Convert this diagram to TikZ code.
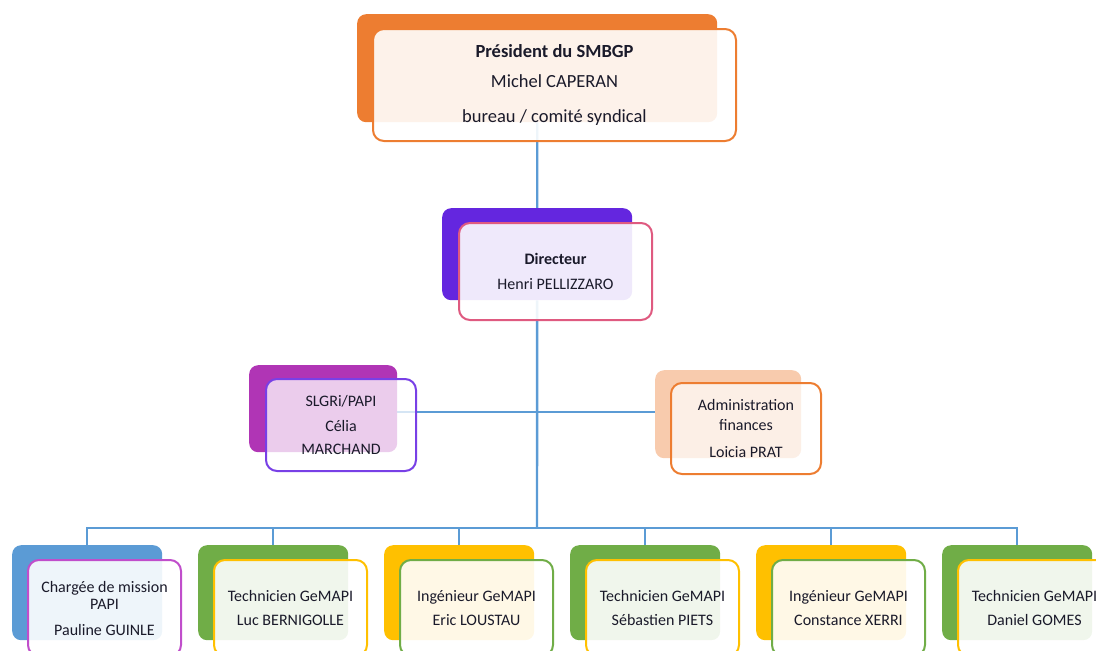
\documentclass[tikz,border=0pt]{standalone}
\usepackage{fontspec}
\setmainfont{Carlito}
\usetikzlibrary{positioning,backgrounds}

\definecolor{orgC}{HTML}{ED7D31}
\definecolor{peachC}{HTML}{F8CBAD}
\definecolor{violC}{HTML}{6426DF}
\definecolor{roseC}{HTML}{DF5A80}
\definecolor{plumC}{HTML}{B035B5}
\definecolor{lilaC}{HTML}{7840E6}
\definecolor{blueC}{HTML}{5B9BD5}
\definecolor{magC}{HTML}{C04ECB}
\definecolor{greenC}{HTML}{70AD47}
\definecolor{yelC}{HTML}{FFC000}
\definecolor{inkC}{HTML}{1A1A2A}

\newcommand\bodyfont{\fontsize{16}{19}\selectfont}
\newcommand\presfont{\fontsize{18.5}{22}\selectfont}

\tikzset{
  backbox/.style={fill=#1, rounded corners=9pt, inner sep=0pt, anchor=north west},
  frontbox/.style={draw=#1, line width=2pt, fill=white, fill opacity=0.9,
    text opacity=1, rounded corners=11pt, align=center, text=inkC,
    font=\bodyfont, inner sep=2pt, anchor=north west},
  link/.style={draw=blueC, line width=2.4pt}
}

\begin{document}
\begin{tikzpicture}[x=1pt, y=-1pt]
  \useasboundingbox (0,0) rectangle (1096,651);

  % president
  \node[backbox=orgC, minimum width=360pt, minimum height=108pt] (presB) at (357,14) {};
  \node[frontbox=orgC, minimum width=363pt, minimum height=112pt, font=\presfont]
    (presF) at ([shift={(15,14)}]presB.north west)
    {\textbf{Président du SMBGP}\\[8pt]Michel CAPERAN\\[13pt]bureau / comité syndical};

  % directeur
  \node[backbox=violC, minimum width=190pt, minimum height=92pt] (dirB) at (442,208) {};
  \node[frontbox=roseC, minimum width=193pt, minimum height=97pt]
    (dirF) at ([shift={(16,14)}]dirB.north west)
    {\textbf{Directeur}\\[6pt]Henri PELLIZZARO};

  % side posts
  \node[backbox=plumC, minimum width=148pt, minimum height=87pt] (slgriB) at (249,365) {};
  \node[frontbox=lilaC, minimum width=150pt, minimum height=92pt, fill opacity=0.75]
    (slgriF) at ([shift={(16,13)}]slgriB.north west)
    {SLGRi/PAPI\\[6pt]Célia\\[4pt]MARCHAND};
  \node[backbox=peachC, minimum width=146pt, minimum height=88pt] (adminB) at (655,370) {};
  \node[frontbox=orgC, minimum width=150pt, minimum height=91pt, fill opacity=0.7]
    (adminF) at ([shift={(15,12)}]adminB.north west)
    {Administration\\[1pt]finances\\[8pt]Loicia PRAT};

  % bottom row
  \foreach \i/\bc/\fc/\txt in {
      1/blueC/magC/{Chargée de mission\\[-2pt]PAPI\\[7pt]Pauline GUINLE},
      2/greenC/yelC/{Technicien GeMAPI\\[5pt]Luc BERNIGOLLE},
      3/yelC/greenC/{Ingénieur GeMAPI\\[5pt]Eric LOUSTAU},
      4/greenC/yelC/{Technicien GeMAPI\\[5pt]Sébastien PIETS},
      5/yelC/greenC/{Ingénieur GeMAPI\\[5pt]Constance XERRI},
      6/greenC/yelC/{Technicien GeMAPI\\[5pt]Daniel GOMES}}{
    \node[backbox=\bc, minimum width=150pt, minimum height=95pt]
      (b\i B) at ({12+186*(\i-1)},545) {};
    \node[frontbox=\fc, minimum width=153pt, minimum height=96pt]
      (b\i F) at ([shift={(15,14)}]b\i B.north west) {\txt};
  }

  % connectors
  \begin{scope}[on background layer]
    \coordinate (side) at (537,412);
    \coordinate (bus) at (537,528);
    \draw[link] (presB) -- (dirB) -- (bus);
    \draw[link] (slgriB.east |- side) -- (adminB.west |- side);
    \foreach \i in {1,...,6}
      \draw[link] (bus) -| (b\i B.north);
  \end{scope}
\end{tikzpicture}
\end{document}
